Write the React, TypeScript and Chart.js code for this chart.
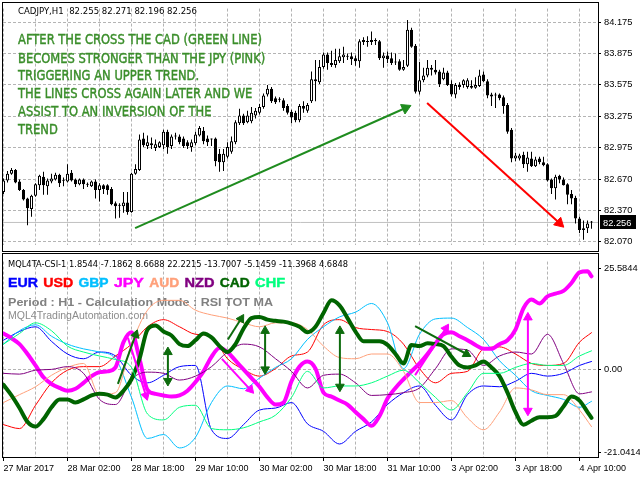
import React, { useEffect, useRef } from 'react';
import { Chart, registerables } from 'chart.js';

Chart.register(...registerables);

// ---------------- CADJPY H1 candles (bar 0 = 27 Mar 10:00 ... bar 147 = 4 Apr 13:00) ----------------
const openP = [
  82.549, 82.659, 82.723, 82.759, 82.649, 82.567, 82.485, 82.384, 82.512, 82.613,
  82.695, 82.604, 82.649, 82.668, 82.714, 82.659, 82.649, 82.732, 82.668, 82.622,
  82.668, 82.622, 82.604, 82.649, 82.567, 82.613, 82.613, 82.576, 82.439, 82.421,
  82.412, 82.448, 82.357, 82.723, 82.759, 83.061, 82.988, 82.997, 82.970, 82.979,
  82.997, 83.125, 82.988, 83.080, 83.080, 83.061, 83.025, 82.979, 83.015, 83.089,
  83.134, 83.061, 83.052, 83.061, 82.915, 82.832, 82.887, 82.933, 83.025, 83.208,
  83.281, 83.217, 83.226, 83.281, 83.308, 83.363, 83.482, 83.537, 83.446, 83.436,
  83.427, 83.372, 83.317, 83.308, 83.235, 83.372, 83.327, 83.418, 83.628, 83.601,
  83.747, 83.866, 83.784, 83.766, 83.802, 83.839, 83.848, 83.848, 83.830, 83.802,
  83.985, 83.994, 83.985, 84.004, 83.994, 83.830, 83.857, 83.830, 83.793, 83.802,
  83.720, 83.757, 84.104, 83.949, 83.510, 83.619, 83.665, 83.738, 83.720, 83.702,
  83.628, 83.693, 83.583, 83.482, 83.574, 83.574, 83.555, 83.564, 83.546, 83.564,
  83.674, 83.610, 83.482, 83.482, 83.482, 83.455, 83.381, 83.144, 82.869, 82.869,
  82.906, 82.814, 82.869, 82.796, 82.869, 82.832, 82.814, 82.668, 82.585, 82.704,
  82.668, 82.622, 82.530, 82.494, 82.293, 82.183, 82.201, 82.255,
];
const highP = [
  82.677, 82.750, 82.778, 82.768, 82.668, 82.576, 82.494, 82.521, 82.631, 82.714,
  82.741, 82.677, 82.723, 82.732, 82.723, 82.686, 82.814, 82.759, 82.677, 82.677,
  82.677, 82.640, 82.659, 82.668, 82.631, 82.622, 82.622, 82.595, 82.457, 82.439,
  82.549, 82.549, 82.732, 82.814, 83.098, 83.116, 83.089, 83.070, 83.052, 83.034,
  83.144, 83.144, 83.098, 83.116, 83.098, 83.080, 83.043, 83.052, 83.125, 83.180,
  83.171, 83.089, 83.061, 83.070, 82.961, 82.961, 83.025, 83.080, 83.235, 83.345,
  83.299, 83.327, 83.363, 83.354, 83.391, 83.491, 83.574, 83.555, 83.464, 83.455,
  83.446, 83.391, 83.336, 83.327, 83.391, 83.418, 83.400, 83.702, 83.812, 83.812,
  83.885, 83.885, 83.903, 83.921, 83.921, 83.940, 83.876, 83.885, 83.857, 84.013,
  84.031, 84.040, 84.086, 84.022, 84.004, 83.885, 83.894, 83.885, 83.876, 83.821,
  83.812, 84.196, 84.123, 83.967, 83.793, 83.738, 83.812, 83.766, 83.812, 83.720,
  83.738, 83.711, 83.619, 83.592, 83.601, 83.628, 83.638, 83.619, 83.647, 83.720,
  83.702, 83.628, 83.500, 83.500, 83.491, 83.473, 83.400, 83.162, 82.924, 82.915,
  82.933, 82.933, 82.933, 82.887, 82.887, 82.887, 82.823, 82.677, 82.714, 82.714,
  82.686, 82.631, 82.567, 82.512, 82.311, 82.274, 82.274, 82.271,
];
const lowP = [
  82.530, 82.640, 82.714, 82.631, 82.558, 82.467, 82.229, 82.311, 82.503, 82.567,
  82.521, 82.521, 82.631, 82.659, 82.595, 82.604, 82.640, 82.649, 82.595, 82.613,
  82.576, 82.595, 82.595, 82.485, 82.457, 82.530, 82.521, 82.421, 82.293, 82.302,
  82.348, 82.329, 82.348, 82.714, 82.750, 82.979, 82.961, 82.961, 82.942, 82.970,
  82.961, 82.915, 82.961, 83.052, 83.006, 82.970, 82.961, 82.933, 82.997, 83.080,
  83.006, 82.988, 82.988, 82.796, 82.741, 82.750, 82.869, 82.915, 83.006, 83.189,
  83.189, 83.208, 83.208, 83.253, 83.290, 83.345, 83.464, 83.400, 83.391, 83.409,
  83.327, 83.290, 83.208, 83.217, 83.217, 83.308, 83.308, 83.400, 83.418, 83.583,
  83.729, 83.720, 83.747, 83.738, 83.784, 83.784, 83.812, 83.766, 83.757, 83.738,
  83.958, 83.940, 83.958, 83.958, 83.812, 83.738, 83.784, 83.766, 83.766, 83.711,
  83.711, 83.747, 83.930, 83.491, 83.482, 83.601, 83.647, 83.665, 83.674, 83.555,
  83.620, 83.564, 83.464, 83.446, 83.528, 83.546, 83.537, 83.537, 83.537, 83.555,
  83.601, 83.446, 83.372, 83.354, 83.427, 83.299, 83.107, 82.832, 82.842, 82.851,
  82.778, 82.741, 82.787, 82.787, 82.814, 82.796, 82.649, 82.530, 82.476, 82.631,
  82.610, 82.430, 82.430, 82.247, 82.155, 82.091, 82.155, 82.196,
];
const closeP = [
  82.659, 82.723, 82.759, 82.640, 82.567, 82.476, 82.393, 82.512, 82.622, 82.704,
  82.613, 82.659, 82.677, 82.714, 82.631, 82.655, 82.723, 82.659, 82.622, 82.668,
  82.622, 82.618, 82.649, 82.567, 82.613, 82.576, 82.567, 82.430, 82.412, 82.417,
  82.448, 82.357, 82.723, 82.768, 83.052, 82.997, 83.025, 83.015, 83.006, 83.025,
  83.125, 82.979, 83.080, 83.089, 83.025, 82.988, 82.988, 83.025, 83.098, 83.162,
  83.034, 83.025, 83.057, 82.842, 82.832, 82.915, 82.979, 83.034, 83.217, 83.281,
  83.208, 83.281, 83.308, 83.327, 83.363, 83.473, 83.537, 83.418, 83.409, 83.432,
  83.354, 83.308, 83.262, 83.235, 83.372, 83.345, 83.381, 83.628, 83.610, 83.747,
  83.866, 83.784, 83.766, 83.812, 83.848, 83.866, 83.844, 83.821, 83.802, 83.994,
  84.004, 83.985, 84.004, 83.994, 83.830, 83.857, 83.821, 83.784, 83.789, 83.720,
  83.747, 84.104, 83.940, 83.510, 83.619, 83.665, 83.738, 83.720, 83.693, 83.583,
  83.693, 83.574, 83.482, 83.574, 83.555, 83.619, 83.619, 83.546, 83.574, 83.665,
  83.610, 83.473, 83.464, 83.473, 83.446, 83.372, 83.125, 82.869, 82.897, 82.897,
  82.814, 82.878, 82.796, 82.860, 82.832, 82.805, 82.659, 82.585, 82.695, 82.668,
  82.613, 82.521, 82.485, 82.293, 82.183, 82.201, 82.247, 82.256,
];

const priceTicks = [82.07, 82.37, 82.67, 82.975, 83.275, 83.575, 83.875, 84.175];
const timeTickLabels = [
  '27 Mar 2017', '28 Mar 02:00', '28 Mar 18:00', '29 Mar 10:00', '30 Mar 02:00',
  '30 Mar 18:00', '31 Mar 10:00', '3 Apr 02:00', '3 Apr 18:00', '4 Apr 10:00',
];
const gridIdx = [0, 8, 16, 24, 32, 40, 48, 56, 64, 72, 80, 88, 96, 104, 112, 120, 128, 136, 144];

// ---------------- Currency strength indicator (MQL4TA-CSI-1) ----------------
const coarseIdx = [0, 4, 8, 12, 16, 20, 24, 28, 32, 36, 40, 44, 48, 52, 56, 60, 64, 68, 72, 76,
  80, 84, 88, 92, 96, 100, 104, 108, 112, 116, 120, 124, 128, 132, 136, 140, 144, 147];
const fineIdx = [...Array.from({ length: 74 }, (_, k) => k * 2), 147];

const eurVals = [7.4, 9.6, 10.8, 7.1, 3.9, 2.7, 4.4, 3.4, -1.5, -3.4, -1.5, 0.7, 1.0, -15.3, -17.5, -14.0, -10.3, -9.8, -8.4, -13.8,
  -15.7, -18.9, -15.7, -13.3, -8.9, -5.9, -4.2, -9.1, -12.8, -6.4, -4.2, -4.4, -3.0, -1.0, -1.7, -1.0, 1.0, 2.0];
const usdVals = [-14.0, -15.0, -9.1, -3.4, -0.2, 0.7, 0.7, 3.4, 6.4, 10.8, 12.6, 10.8, 8.9, 8.4, 2.7, 0.0, -1.7, 0.2, 3.4, 4.4,
  11.3, 12.6, 10.6, 10.1, 9.6, 6.4, 0.2, -3.4, -1.0, -0.5, 5.2, 5.7, 3.9, 1.5, 1.0, 1.5, 6.9, 9.3];
const gbpVals = [6.4, 9.8, 11.3, 8.4, 6.4, 5.2, 4.4, 2.7, -7.1, -17.5, -16.5, -19.9, -17.2, -8.4, -4.2, -4.9, -2.2, 0.5, 2.7, 7.6,
  10.8, 13.3, 14.5, 16.7, 11.8, 0.2, 8.9, 12.8, 13.0, 10.6, 7.6, 2.2, -1.5, -5.4, -6.6, -7.6, -9.6, -8.1];
const jpyVals = [9.1, 7.9, 6.4, 3.9, 1.0, -2.0, -3.7, -4.7, -5.4, -4.9, -3.4, -1.7, -0.7, -0.5, 0.5, 6.9, 9.4, 2.7, -5.2, -6.2,
  -6.6, -6.9, -6.6, -5.4, -3.2, -0.5, 3.2, 5.4, 4.4, 2.2, 0.0, -2.2, -4.4, -7.1, -8.9, -8.4, -3.0, 0.7, 2.0, 0.2,
  -5.9, -6.9, -7.9, -8.9, -10.8, -12.6, -14.3, -11.8, -7.4, -4.7, -2.5, -0.5, 1.5, 3.9, 6.6, 8.9, 9.4, 8.4, 7.4, 6.2,
  5.2, 5.2, 6.4, 7.4, 10.1, 15.5, 17.7, 16.7, 18.5, 19.2, 19.9, 21.9, 24.6, 24.9, 23.6];
const audVals = [-8.4, -6.4, -4.4, -1.5, 0.5, 1.5, -6.4, -5.9, 6.4, 15.0, 17.5, 17.5, 15.0, 13.8, 13.0, 11.8, 10.8, 11.8, 11.8, 10.1,
  5.9, 3.0, 2.7, 3.9, 3.9, -0.5, -8.4, -8.4, -7.9, -12.3, -15.3, -10.8, -4.7, -5.2, -6.4, -6.4, -10.3, -14.5];
const nzdVals = [-1.0, -1.2, -0.2, 0.0, 0.7, -1.0, -7.6, -8.9, -2.5, -0.7, -1.0, -2.7, -1.7, 0.7, 4.4, 6.4, 5.7, 2.7, -0.5, -4.7,
  -1.5, -1.2, -3.4, -6.6, -6.4, -5.9, -4.7, 0.2, 5.2, 4.9, 1.0, 3.4, 4.4, 3.9, 8.9, 1.5, -6.2, -5.7];
const cadVals = [-3.9, -6.6, -9.8, -13.3, -14.5, -12.6, -9.6, -7.6, -7.6, -8.4, -7.6, -6.6, -6.2, -6.4, -7.1, -5.4, -2.5, 2.7, 10.1, 11.1,
  9.6, 8.6, 6.4, 5.9, 7.4, 9.1, 8.1, 5.9, 4.4, 6.4, 10.3, 13.0, 13.3, 12.6, 12.3, 12.1, 11.6, 10.8, 9.4, 10.8,
  14.3, 17.5, 16.2, 13.0, 9.6, 7.1, 7.1, 7.1, 6.2, 3.9, 1.5, 6.2, 5.9, 6.6, 6.4, 5.9, 3.2, 1.0, 0.5, 1.0,
  2.0, 0.5, -1.7, -5.9, -10.8, -14.0, -13.0, -12.1, -12.1, -11.8, -9.4, -6.9, -7.9, -10.8, -12.3];
const chfVals = [6.4, 9.1, 11.8, 9.8, 5.9, 4.4, 3.4, 2.5, 0.5, -11.3, -12.8, -9.6, -9.1, -15.0, -15.3, -14.8, -13.3, -11.6, -7.1, -0.5,
  -4.7, -4.2, -4.2, -3.4, -1.7, -0.2, -3.4, -7.1, -10.3, -5.9, -1.0, -1.0, 0.5, 1.5, 1.0, 1.0, 3.4, 4.7];

const indTicks = [-21.0414, 0, 25.5844];
const indTickLabels = ['-21.0414', '0.00', '25.5844'];

const symbolHeader = 'CADJPY,H1  82.255 82.271 82.196 82.256';
const indHeader = 'MQL4TA-CSI-1 1.8544 -7.1862 8.6688 22.2215 -13.7007 -5.1459 -11.3968 4.6848';
const periodText = 'Period : H1 - Calculation Mode : RSI TOT MA';
const siteText = 'MQL4TradingAutomation.com';
const currencies = ['EUR', 'USD', 'GBP', 'JPY', 'AUD', 'NZD', 'CAD', 'CHF'];
const noteLines = [
  'AFTER THE CROSS THE CAD (GREEN LINE)',
  'BECOMES STRONGER THAN THE JPY (PINK)',
  'TRIGGERING AN UPPER TREND.',
  'THE LINES CROSS AGAIN LATER AND WE',
  'ASSIST TO AN INVERSION OF THE',
  'TREND',
];

// annotation arrows (bar index, value)
const topArrows = [
  { x0: 32.9, y0: 82.201, x1: 100.5, y1: 83.353, color: '#1f8c1f', rot0: 0, rot1: 65, double: false },
  { x0: 105.9, y0: 83.4, x1: 138.97, y1: 82.25, color: '#ff0000', rot0: 0, rot1: 133, double: false },
];
const G = '#0d6b0d';
const M = '#ff00ff';
const indArrows = [
  { x0: 28.6, y0: -3.66, x1: 33.05, y1: 8.83, color: G, rot0: 0, rot1: 19, double: false },
  { x0: 41.1, y0: -2.93, x1: 41.1, y1: 4.39, color: G, rot0: 180, rot1: 0, double: true },
  { x0: 56.1, y0: 7.56, x1: 59.4, y1: 12.83, color: G, rot0: 0, rot1: 31, double: false },
  { x0: 65.4, y0: 0.0, x1: 65.4, y1: 9.76, color: G, rot0: 180, rot1: 0, double: true },
  { x0: 84.1, y0: -4.39, x1: 84.1, y1: 9.76, color: G, rot0: 180, rot1: 0, double: true },
  { x0: 102.9, y0: 10.98, x1: 115.75, y1: 3.9, color: G, rot0: 0, rot1: 119, double: false },
  { x0: 31.1, y0: 8.05, x1: 35.6, y1: -6.63, color: M, rot0: 0, rot1: 163, double: false },
  { x0: 54.6, y0: 2.68, x1: 61.7, y1: -5.12, color: M, rot0: 0, rot1: 138, double: false },
  { x0: 102.9, y0: -1.46, x1: 110.6, y1: 10.39, color: M, rot0: 0, rot1: 32, double: false },
  { x0: 131.1, y0: -10.49, x1: 131.1, y1: 13.17, color: M, rot0: 180, rot1: 0, double: true },
];

// ---------------- styling ----------------
const X_MIN = -0.125;
const X_MAX = 148.625;
const GRID = '#b4b4b4';
const AXIS_FONT = 'Liberation Sans';

function drawText(ctx: any, text: string, x: number, baseline: number, font: string, color: string, width?: number, stroke?: number) {
  ctx.save();
  ctx.font = font;
  ctx.fillStyle = color;
  ctx.textAlign = 'left';
  ctx.textBaseline = 'alphabetic';
  ctx.translate(x, baseline);
  if (width) {
    const w = ctx.measureText(text).width;
    ctx.scale(width / w, 1);
  }
  ctx.fillText(text, 0, 0);
  if (stroke) {
    ctx.strokeStyle = color;
    ctx.lineWidth = stroke;
    ctx.strokeText(text, 0, 0);
  }
  ctx.restore();
}

function arrowDataset(a: any, r: number, order: number) {
  return {
    type: 'line',
    data: [{ x: a.x0, y: a.y0 }, { x: a.x1, y: a.y1 }],
    borderColor: a.color,
    borderWidth: 2,
    tension: 0,
    pointStyle: 'triangle',
    pointRadius: a.double ? [r, r] : [0, r],
    pointRotation: [a.rot0, a.rot1],
    pointBackgroundColor: a.color,
    pointBorderColor: a.color,
    pointBorderWidth: 1,
    order,
  };
}

export default function App() {
  const topRef = useRef<HTMLCanvasElement>(null);
  const botRef = useRef<HTMLCanvasElement>(null);

  useEffect(() => {
    const last = closeP[closeP.length - 1];

    const topDeco = {
      id: 'topDeco',
      afterDraw(chart: any) {
        const ctx = chart.ctx;
        ctx.save();
        ctx.strokeStyle = '#000';
        ctx.lineWidth = 1;
        ctx.strokeRect(2.5, 2.5, 596, 249);
        ctx.restore();
        drawText(ctx, symbolHeader, 18, 14, '9.2px "DejaVu Sans"', '#000', 179);
        // annotation text
        ctx.save();
        ctx.font = '13.7px "DejaVu Sans"';
        const s = 244 / ctx.measureText(noteLines[0]).width;
        ctx.restore();
        const bases = [44.3, 62.5, 80.2, 98.2, 116.2, 134.2];
        noteLines.forEach((t, k) => {
          ctx.save();
          ctx.font = '13.7px "DejaVu Sans"';
          ctx.fillStyle = '#3b8e2b';
          ctx.strokeStyle = '#3b8e2b';
          ctx.lineWidth = 0.45;
          ctx.textBaseline = 'alphabetic';
          ctx.translate(18, bases[k]);
          ctx.scale(s, 1);
          ctx.fillText(t, 0, 0);
          ctx.strokeText(t, 0, 0);
          ctx.restore();
        });
        // last price marker
        const y = chart.scales.y.getPixelForValue(last);
        ctx.save();
        ctx.fillStyle = '#000';
        ctx.fillRect(600, Math.round(y) - 7, 36, 14);
        ctx.restore();
        drawText(ctx, last.toFixed(3), 603, Math.round(y) + 3.5, '9.3px "Liberation Sans"', '#fff');
      },
    };

    const top = new Chart(topRef.current as HTMLCanvasElement, {
      type: 'bar',
      data: {
        datasets: [
          ...topArrows.map((a) => arrowDataset(a, 6, 0)),
          {
            type: 'bar',
            label: 'body',
            data: openP.map((o, i) => ({ x: i, y: [o, closeP[i]] })),
            backgroundColor: openP.map((o, i) => (closeP[i] >= o ? '#ffffff' : '#000000')),
            borderColor: '#000000',
            borderWidth: 1,
            borderSkipped: false,
            barThickness: 3,
            minBarLength: 1,
            inflateAmount: 0,
            grouped: false,
            order: 1,
          },
          {
            type: 'bar',
            label: 'wick',
            data: lowP.map((l, i) => ({ x: i, y: [l, highP[i]] })),
            backgroundColor: '#000000',
            borderWidth: 0,
            barThickness: 1,
            inflateAmount: 0,
            grouped: false,
            order: 2,
          },
          {
            type: 'line',
            label: 'last',
            data: [{ x: X_MIN, y: last }, { x: X_MAX, y: last }],
            borderColor: '#c0c0c0',
            borderWidth: 1,
            pointRadius: 0,
            order: 3,
          },
        ] as any,
      },
      options: {
        responsive: false,
        animation: false,
        events: [],
        layout: { padding: { left: 3, top: 3, right: 0, bottom: 3 }, autoPadding: false },
        plugins: { legend: { display: false }, tooltip: { enabled: false } },
        scales: {
          x: {
            type: 'linear',
            min: X_MIN,
            max: X_MAX,
            offset: false,
            afterBuildTicks: (s: any) => { s.ticks = gridIdx.map((v) => ({ value: v })); },
            afterFit: (s: any) => { s.height = 0; },
            ticks: { display: false },
            grid: { color: GRID, offset: false, drawTicks: false },
            border: { display: false, dash: [3, 2] },
          },
          y: {
            type: 'linear',
            position: 'right',
            min: 82.036,
            max: 84.306,
            afterBuildTicks: (s: any) => { s.ticks = priceTicks.map((v) => ({ value: v })); },
            afterFit: (s: any) => { s.width = 42; },
            ticks: {
              color: '#000',
              padding: 3,
              font: { family: AXIS_FONT, size: 9.3 },
              callback: (v: any) => Number(v).toFixed(3),
            },
            grid: { color: GRID, tickLength: 3, tickColor: '#000' },
            border: { display: false, dash: [3, 2] },
          },
        },
      } as any,
      plugins: [topDeco],
    });

    const series = [
      { idx: coarseIdx, vals: eurVals, color: '#0000ff', w: 1, order: 9 },
      { idx: coarseIdx, vals: usdVals, color: '#ff0000', w: 1, order: 8 },
      { idx: coarseIdx, vals: gbpVals, color: '#00bfff', w: 1, order: 7 },
      { idx: fineIdx, vals: jpyVals, color: '#ff00ff', w: 4, order: 6 },
      { idx: coarseIdx, vals: audVals, color: '#ffa07a', w: 1, order: 5 },
      { idx: coarseIdx, vals: nzdVals, color: '#800080', w: 1, order: 4 },
      { idx: fineIdx, vals: cadVals, color: '#006400', w: 4, order: 3 },
      { idx: coarseIdx, vals: chfVals, color: '#00ff7f', w: 1, order: 2 },
    ];
    const legendColors = series.map((s) => s.color);

    const botDeco = {
      id: 'botDeco',
      beforeDatasetsDraw(chart: any) {
        const ctx = chart.ctx;
        drawText(ctx, indHeader, 8, 13.5, '9.2px "DejaVu Sans"', '#000', 340);
        currencies.forEach((c, k) => {
          drawText(ctx, c, 8 + k * 35.3, 34.3, 'bold 12.8px "Liberation Sans"', legendColors[k], 30, 0.4);
        });
        drawText(ctx, periodText, 8, 53, 'bold 10.3px "Liberation Sans"', '#808080', 265);
        drawText(ctx, siteText, 8, 66, '10.3px "Liberation Sans"', '#8c8c8c', 140);
      },
      afterDraw(chart: any) {
        const ctx = chart.ctx;
        ctx.save();
        ctx.strokeStyle = '#000';
        ctx.lineWidth = 1;
        ctx.strokeRect(2.5, 0.5, 596, 204);
        ctx.restore();
      },
    };

    const bot = new Chart(botRef.current as HTMLCanvasElement, {
      type: 'line',
      data: {
        datasets: [
          ...indArrows.map((a) => arrowDataset(a, 5, 0)),
          ...series.map((s) => ({
            type: 'line',
            data: s.idx.map((x, k) => ({ x, y: s.vals[k] })),
            borderColor: s.color,
            borderWidth: s.w,
            pointRadius: 0,
            cubicInterpolationMode: 'monotone',
            borderJoinStyle: 'round',
            borderCapStyle: 'round',
            order: s.order,
          })),
        ] as any,
      },
      options: {
        responsive: false,
        animation: false,
        events: [],
        layout: { padding: { left: 3, top: 1, right: 0, bottom: 0 }, autoPadding: false },
        plugins: { legend: { display: false }, tooltip: { enabled: false } },
        scales: {
          x: {
            type: 'linear',
            min: X_MIN,
            max: X_MAX,
            offset: false,
            afterBuildTicks: (s: any) => { s.ticks = gridIdx.map((v) => ({ value: v })); },
            afterFit: (s: any) => { s.height = 23; },
            ticks: {
              autoSkip: false,
              maxRotation: 0,
              minRotation: 0,
              align: 'start',
              padding: 2,
              color: '#000',
              font: { family: AXIS_FONT, size: 9 },
              callback: (_v: any, i: number) => (i % 2 === 0 ? timeTickLabels[i / 2] : ''),
            },
            grid: {
              color: GRID,
              offset: false,
              tickLength: 4,
              tickColor: (c: any) => (c.index % 2 === 0 ? '#000' : 'rgba(0,0,0,0)'),
            },
            border: { display: false, dash: [3, 2] },
          },
          y: {
            type: 'linear',
            position: 'right',
            min: -22.2,
            max: 27.32,
            afterBuildTicks: (s: any) => { s.ticks = indTicks.map((v) => ({ value: v })); },
            afterFit: (s: any) => { s.width = 42; },
            ticks: {
              color: '#000',
              padding: 3,
              font: { family: AXIS_FONT, size: 9.3 },
              callback: (_v: any, i: number) => indTickLabels[i],
            },
            grid: {
              color: (c: any) => (c.tick && c.tick.value === 0 ? GRID : 'rgba(0,0,0,0)'),
              tickLength: 3,
              tickColor: '#000',
            },
            border: { display: false, dash: [3, 2] },
          },
        },
      } as any,
      plugins: [botDeco],
    });

    return () => {
      top.destroy();
      bot.destroy();
    };
  }, []);

  return (
    <div style={{ position: 'fixed', left: 0, top: 0, width: 640, height: 480, background: '#ffffff' }}>
      <canvas ref={topRef} width={640} height={254} style={{ position: 'absolute', left: 0, top: 0, width: 640, height: 254 }} />
      <canvas ref={botRef} width={640} height={227} style={{ position: 'absolute', left: 0, top: 253, width: 640, height: 227 }} />
    </div>
  );
}
